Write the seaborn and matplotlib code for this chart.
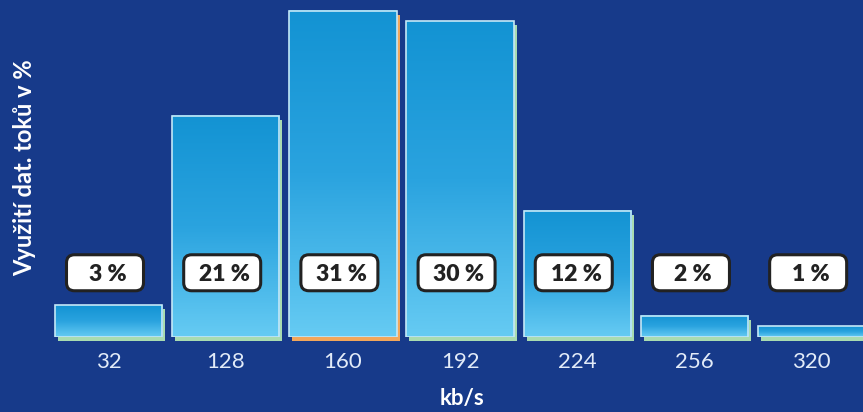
import numpy as np
import pandas as pd
import matplotlib
matplotlib.use("Agg")
import matplotlib.pyplot as plt
import matplotlib.transforms as mtransforms
from matplotlib.patches import Rectangle, FancyBboxPatch
from matplotlib.colors import LinearSegmentedColormap
import seaborn as sns

# ---- data ----
categories = ["32", "128", "160", "192", "224", "256", "320"]
values = [3, 21, 31, 30, 12, 2, 1]
value_labels = ["3 %", "21 %", "31 %", "30 %", "12 %", "2 %", "1 %"]
shadow_colors = ["#a9dbb0", "#a9dbb0", "#f2a65a", "#a9dbb0", "#a9dbb0", "#a9dbb0", "#a9dbb0"]

BG = "#173a8a"
sns.set_theme(style="white")
plt.rcParams["font.family"] = ["Lato", "DejaVu Sans"]

fig = plt.figure(figsize=(8.63, 4.12), dpi=100, facecolor=BG)
ax = fig.add_axes([0, 75 / 412, 1, 337 / 412])
ax.set_facecolor(BG)

df = pd.DataFrame({"rate": categories, "share": values})
sns.barplot(data=df, x="rate", y="share", order=categories, width=0.915,
            color="#2aa3df", edgecolor="#c4e8f7", linewidth=1.2, ax=ax, zorder=3)

bars = list(ax.patches)
cmap = LinearSegmentedColormap.from_list("g", ["#66cbf3", "#2aa3df", "#1393d3"])
grad = np.linspace(0, 1, 256).reshape(-1, 1)

shift = mtransforms.ScaledTranslation(3 / 100, -4 / 100, fig.dpi_scale_trans)
for bar, sc in zip(bars, shadow_colors):
    x0, y0 = bar.get_x(), bar.get_y()
    w, h = bar.get_width(), bar.get_height()
    bar.set_facecolor("none")
    sh = Rectangle((x0, y0), w, h, facecolor=sc, edgecolor="none",
                   transform=ax.transData + shift, zorder=1, clip_on=False)
    ax.add_patch(sh)
    base = Rectangle((x0, y0), w, h, facecolor=BG, edgecolor="none", zorder=1.5)
    ax.add_patch(base)
    im = ax.imshow(grad, extent=[x0, x0 + w, y0, y0 + h], origin="lower",
                   aspect="auto", cmap=cmap, zorder=2, interpolation="bicubic")

ax.set_xlim(-0.926, 6.438)
ax.set_ylim(0, 32)

# value label boxes
box_w, box_h = 0.77, 0.36  # inches
label_y = 6.1
for i, lab in enumerate(value_labels):
    tr = fig.dpi_scale_trans + mtransforms.ScaledTranslation(i - 0.03, label_y, ax.transData)
    box = FancyBboxPatch((-box_w / 2, -box_h / 2), box_w, box_h,
                         boxstyle="round,pad=0,rounding_size=0.08",
                         facecolor="white", edgecolor="#222222", linewidth=2.2,
                         transform=tr, zorder=5, clip_on=False)
    ax.add_patch(box)
    ax.text(i - 0.01, label_y, lab, ha="center", va="center_baseline",
            fontsize=16.5, fontweight="heavy", color="#222222", zorder=6)

ax.set_xlabel("")
ax.set_ylabel("")
ax.set_yticks([])
ax.tick_params(axis="x", length=0, pad=11, labelsize=16, labelcolor="#e2ebf8")
for s in ax.spines.values():
    s.set_visible(False)

fig.text(0.029, 0.592, "Využití dat. toků v %", rotation=90, ha="center", va="center",
         fontsize=17, fontweight="bold", color="white")
fig.text(462 / 863, 1 - 398 / 412, "kb/s", ha="center", va="center",
         fontsize=16, fontweight="bold", color="white")

fig.savefig("out.png", dpi=100, facecolor=BG)
